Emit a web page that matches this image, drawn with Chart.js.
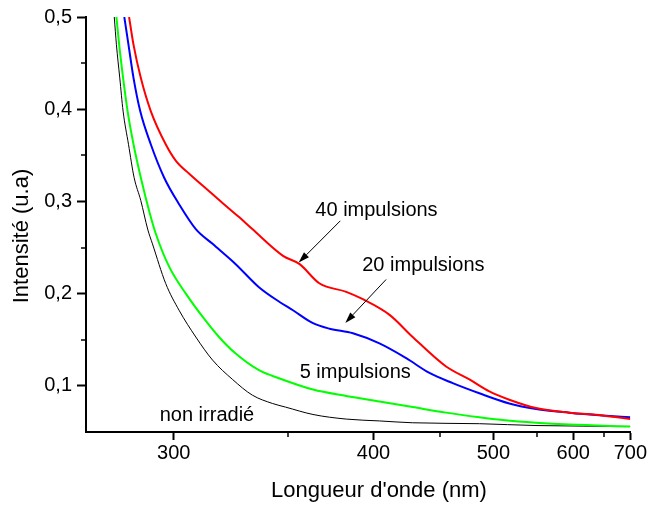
<!DOCTYPE html>
<html>
<head>
<meta charset="utf-8">
<script src="https://cdn.jsdelivr.net/npm/chart.js@4.4.1/dist/chart.umd.min.js"></script>
<style>
  html, body { margin: 0; padding: 0; background: #fff; }
  #wrap { width: 648px; height: 506px; }
</style>
</head>
<body>
<div id="wrap"><canvas id="myChart"></canvas></div>
<script>
// wavelengths (nm) and intensities (u.a)
const wlRed = [284.1, 285.6, 288.1, 291.6, 297.0, 300.8, 305.9, 313.9, 320.1, 326.7, 332.7, 347.5, 356.1, 367.0, 382.6, 393.0, 411.0, 428.0, 455.1, 476.2, 495.9, 517.2, 548.8, 594.1, 647.4, 700];
const intRed = [0.500, 0.470, 0.434, 0.398, 0.362, 0.344, 0.330, 0.311, 0.297, 0.283, 0.270, 0.241, 0.232, 0.211, 0.202, 0.194, 0.177, 0.153, 0.121, 0.107, 0.094, 0.085, 0.076, 0.071, 0.068, 0.064];

const wlBlue = [282.5, 283.9, 285.6, 287.9, 291.6, 296.4, 302.0, 308.5, 315.3, 325.2, 335.8, 345.8, 352.6, 363.3, 372.7, 386.7, 404.0, 423.1, 441.2, 460.9, 485.8, 517.2, 548.8, 594.1, 647.4, 700];
const intBlue = [0.500, 0.470, 0.434, 0.398, 0.362, 0.326, 0.297, 0.270, 0.254, 0.232, 0.207, 0.191, 0.182, 0.168, 0.162, 0.157, 0.146, 0.130, 0.114, 0.103, 0.092, 0.081, 0.075, 0.071, 0.068, 0.066];

const wlGreen = [279.9, 280.8, 282.1, 283.6, 285.6, 288.1, 291.0, 293.4, 298.3, 304.6, 311.2, 318.0, 325.2, 335.8, 345.8, 363.3, 382.6, 404.0, 428.0, 455.1, 485.8, 509.9, 548.8, 594.1, 700];
const intGreen = [0.500, 0.470, 0.434, 0.398, 0.362, 0.326, 0.290, 0.265, 0.229, 0.200, 0.175, 0.153, 0.135, 0.117, 0.108, 0.096, 0.089, 0.083, 0.077, 0.071, 0.066, 0.063, 0.060, 0.058, 0.056];

const wlBlack = [279.2, 279.9, 281.0, 282.1, 283.9, 285.8, 288.1, 290.5, 292.2, 297.0, 302.0, 308.5, 315.3, 323.8, 332.7, 342.2, 348.8, 363.3, 382.6, 404.0, 428.0, 485.8, 548.8, 700];
const intBlack = [0.500, 0.470, 0.434, 0.398, 0.362, 0.326, 0.301, 0.270, 0.254, 0.211, 0.182, 0.153, 0.128, 0.107, 0.090, 0.081, 0.077, 0.069, 0.064, 0.062, 0.060, 0.059, 0.057, 0.056];

const xTicks = [300, 400, 500, 600, 700];
const xMinor = [350, 450, 550, 650];
const yTicks = [0.1, 0.2, 0.3, 0.4, 0.5];
const yMinor = [0.15, 0.25, 0.35, 0.45];

const FONT = "'Liberation Sans', Arial, sans-serif";

// axis in 1/lambda (energy-like), labelled in nm
class ReciprocalScale extends Chart.LinearScale {
  static id = 'reciprocal';
  static defaults = {};
  configure() {
    super.configure();
    this._invStart = 1 / this.min;
    this._invEnd = 1 / this.max;
  }
  getPixelForValue(value) {
    if (value === null || value === undefined || isNaN(value)) return NaN;
    const t = (this._invStart - 1 / value) / (this._invStart - this._invEnd);
    return this.getPixelForDecimal(t);
  }
  getValueForPixel(pixel) {
    const t = this.getDecimalForPixel(pixel);
    return 1 / (this._invStart - t * (this._invStart - this._invEnd));
  }
}
Chart.register(ReciprocalScale);

function pts(xs, ys) {
  return xs.map((x, i) => ({ x: x, y: ys[i] }));
}

// labels and arrows placed in data units (nm, u.a)
const notes = [
  { text: '40 impulsions', x: 364.6, y: 0.2844 },
  { text: '20 impulsions', x: 392.6, y: 0.2245 },
  { text: '5 impulsions', x: 356.1, y: 0.1081 },
  { text: 'non irradié', x: 294.8, y: 0.0623 }
];
const arrows = [
  { from: [379.0, 0.279], to: [355.6, 0.2337] },
  { from: [408.6, 0.2154], to: [382.0, 0.1683] }
];

const extras = {
  id: 'extras',
  afterDraw(chart) {
    const c = chart.ctx;
    const xs = chart.scales.x, ys = chart.scales.y;
    const area = chart.chartArea;
    c.save();
    c.strokeStyle = '#000';
    c.fillStyle = '#000';
    c.lineWidth = 1.5;
    // minor ticks
    xMinor.forEach(v => {
      const px = Math.round(xs.getPixelForValue(v));
      c.beginPath(); c.moveTo(px, area.bottom); c.lineTo(px, area.bottom + 5); c.stroke();
    });
    yMinor.forEach(v => {
      const py = Math.round(ys.getPixelForValue(v));
      c.beginPath(); c.moveTo(area.left - 5, py); c.lineTo(area.left, py); c.stroke();
    });

    // annotations
    c.font = '20px ' + FONT;
    c.textBaseline = 'alphabetic';
    c.textAlign = 'left';
    notes.forEach(n => {
      c.fillText(n.text, xs.getPixelForValue(n.x), ys.getPixelForValue(n.y));
    });
    c.lineWidth = 1;
    arrows.forEach(a => {
      const x1 = xs.getPixelForValue(a.from[0]), y1 = ys.getPixelForValue(a.from[1]);
      const x2 = xs.getPixelForValue(a.to[0]), y2 = ys.getPixelForValue(a.to[1]);
      const ang = Math.atan2(y2 - y1, x2 - x1);
      const len = 11, half = 3.5;
      const bx = x2 - len * Math.cos(ang), by = y2 - len * Math.sin(ang);
      c.beginPath(); c.moveTo(x1, y1); c.lineTo(bx, by); c.stroke();
      c.beginPath();
      c.moveTo(x2, y2);
      c.lineTo(bx + half * Math.sin(ang), by - half * Math.cos(ang));
      c.lineTo(bx - half * Math.sin(ang), by + half * Math.cos(ang));
      c.closePath(); c.fill();
    });

    // axis titles
    c.font = '22px ' + FONT;
    c.textAlign = 'center';
    c.textBaseline = 'middle';
    c.fillText("Longueur d'onde (nm)", 379, 491);
    c.translate(22, 236);
    c.rotate(-Math.PI / 2);
    c.fillText('Intensité (u.a)', 0, 0);
    c.restore();
  }
};

const ctx = document.getElementById('myChart');
const chart = new Chart(ctx, {
  type: 'line',
  data: {
    datasets: [
      { label: '40 impulsions', data: pts(wlRed, intRed), borderColor: '#ff0000', borderWidth: 2 },
      { label: '20 impulsions', data: pts(wlBlue, intBlue), borderColor: '#0000ff', borderWidth: 2 },
      { label: '5 impulsions', data: pts(wlGreen, intGreen), borderColor: '#00ff00', borderWidth: 2 },
      { label: 'non irradié', data: pts(wlBlack, intBlack), borderColor: '#000000', borderWidth: 1 }
    ]
  },
  options: {
    responsive: true,
    maintainAspectRatio: false,
    animation: false,
    devicePixelRatio: 1,
    layout: { padding: { left: 0, top: 17, right: 17, bottom: 0 } },
    elements: {
      point: { radius: 0 },
      line: { cubicInterpolationMode: 'monotone', fill: false }
    },
    plugins: { legend: { display: false }, tooltip: { enabled: false } },
    scales: {
      x: {
        type: 'reciprocal',
        min: 270.3,
        max: 700,
        bounds: 'data',
        afterBuildTicks: s => { s.ticks = xTicks.map(v => ({ value: v })); },
        afterFit: s => { s.height = 74; },
        grid: { display: true, drawOnChartArea: false, drawTicks: true, tickLength: 8, tickColor: '#000', tickWidth: 2 },
        border: { display: true, color: '#000', width: 2 },
        ticks: {
          autoSkip: false, maxRotation: 0, padding: 1, color: '#000',
          font: { family: FONT, size: 20 },
          callback: v => String(v)
        }
      },
      y: {
        min: 0.05,
        max: 0.5,
        afterBuildTicks: s => { s.ticks = yTicks.map(v => ({ value: v })); },
        afterFit: s => { s.width = 86; },
        grid: { display: true, drawOnChartArea: false, drawTicks: true, tickLength: 9, tickColor: '#000', tickWidth: 2 },
        border: { display: true, color: '#000', width: 2 },
        ticks: {
          padding: 5, color: '#000',
          font: { family: FONT, size: 20 },
          callback: v => v.toFixed(1).replace('.', ',')
        }
      }
    }
  },
  plugins: [extras]
});
</script>
</body>
</html>
